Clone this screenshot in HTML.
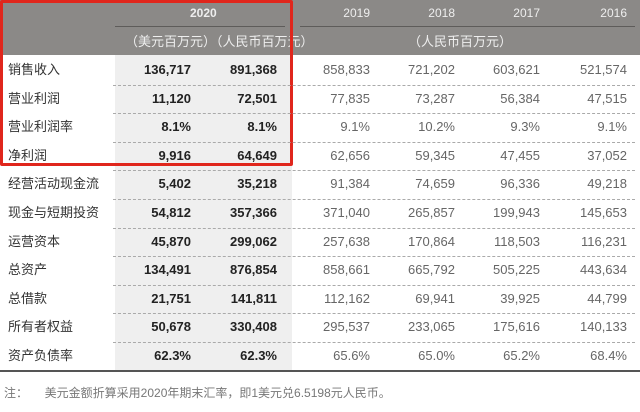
<!DOCTYPE html>
<html><head><meta charset="utf-8">
<style>
body{margin:0;width:640px;height:412px;background:#fff;overflow:hidden;position:relative;font-family:"Liberation Sans","Noto Sans CJK SC",sans-serif;}
div{position:absolute;}
.hdr{left:0;top:0;width:640px;height:55px;background:#8b8987;}
.t{font-size:13px;line-height:16px;white-space:nowrap;}
.lab{color:#333;left:8px;}
.b{font-weight:bold;color:#222;}
.n{color:#666;}
.r{text-align:right;width:100px;}
.hd{color:#eee;font-size:12px;}
</style></head><body>
<div class="hdr"></div>
<div style="left:115px;top:55px;width:177px;height:316px;background:#efefef"></div>
<div style="left:115px;top:26px;width:170px;height:1px;background:#5e5c5a"></div>
<div style="left:300px;top:26px;width:335px;height:1px;background:#5e5c5a"></div>
<div class="t hd" style="left:190px;top:5px;font-weight:bold">2020</div>
<div class="t hd" style="left:125px;top:34px;font-size:13px">（美元百万元）（人民币百万元）</div>
<div class="t hd" style="left:408px;top:34px;font-size:13px">（人民币百万元）</div>
<div style="left:0;top:370px;width:640px;height:2px;background:#555"></div>
<div class="t" style="left:4px;top:385px;color:#777;font-size:12px">注：&nbsp;&nbsp;&nbsp;&nbsp;&nbsp;美元金额折算采用2020年期末汇率，即1美元兑6.5198元人民币。</div>
<div style="left:0;top:0;width:287px;height:160px;border:3px solid #e0261c;border-radius:2px"></div>
<script>
const years=["2019","2018","2017","2016"];
const labels=["销售收入","营业利润","营业利润率","净利润","经营活动现金流","现金与短期投资","运营资本","总资产","总借款","所有者权益","资产负债率"];
const usd=["136,717","11,120","8.1%","9,916","5,402","54,812","45,870","134,491","21,751","50,678","62.3%"];
const rmb=["891,368","72,501","8.1%","64,649","35,218","357,366","299,062","876,854","141,811","330,408","62.3%"];
const y2019=["858,833","77,835","9.1%","62,656","91,384","371,040","257,638","858,661","112,162","295,537","65.6%"];
const y2018=["721,202","73,287","10.2%","59,345","74,659","265,857","170,864","665,792","69,941","233,065","65.0%"];
const y2017=["603,621","56,384","9.3%","47,455","96,336","199,943","118,503","505,225","39,925","175,616","65.2%"];
const y2016=["521,574","47,515","9.1%","37,052","49,218","145,653","116,231","443,634","44,799","140,133","68.4%"];
const hist=[y2019,y2018,y2017,y2016];
const rowTop=56,rowH=28.6,rights=[191,277,370,455,540,627];
function add(cls,txt,left,top,extra){const d=document.createElement('div');d.className=cls;d.textContent=txt;d.style.left=left+'px';d.style.top=top+'px';if(extra)d.style.cssText+=extra;document.body.appendChild(d);return d;}
years.forEach((y,i)=>{const d=add('t hd r',y,rights[i+2]-100,5);

});
labels.forEach((l,i)=>{const top=rowTop+i*rowH;const ty=top+6;
const a=add('t lab',l,8,ty);


const u=add('t b r',usd[i],rights[0]-100,ty);


const m=add('t b r',rmb[i],rights[1]-100,ty);


hist.forEach((s,j)=>{const h=add('t n r',s[i],rights[j+2]-100,ty);

});
if(i<labels.length-1){const ln=add('','',113,top+rowH,'width:522px;height:0;border-top:1px dashed #aaa');

}
});
</script>
</body></html>
